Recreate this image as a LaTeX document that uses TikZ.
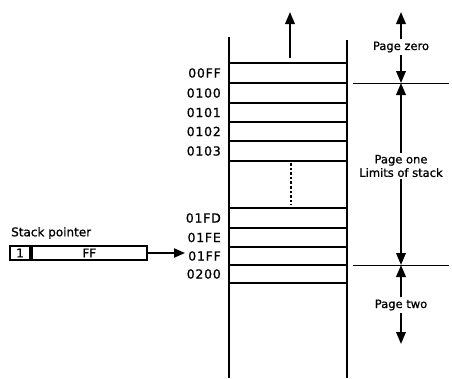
\documentclass[tikz,border=0pt]{standalone}
\usepackage{fontspec}
\setmainfont{DejaVu Sans}[FakeBold=1]
\newfontfamily\addrfamily[LetterSpace=6, FakeBold=1]{DejaVu Sans}
\newcommand{\addrfont}{\addrfamily\fontsize{12.5}{14}\selectfont}
\newcommand{\regfont}{\fontsize{12}{14}\selectfont}
\newcommand{\pagefont}{\fontsize{11.5}{13.5}\selectfont}
\usetikzlibrary{arrows.meta, positioning}

\begin{document}
\begin{tikzpicture}[
    x=1pt, y=-1pt,
    addr/.style={font=\addrfont, anchor=east, inner sep=0pt},
    pagelbl/.style={font=\pagefont, align=center, inner sep=2pt},
    reg/.style={draw, line width=1.8pt, minimum height=14pt, inner sep=0pt, font=\regfont},
    bigarrow/.style={-{Triangle[length=12pt,width=9.5pt]}, line width=2pt},
    wall/.style={line width=2.6pt},
    limit/.style={line width=0.9pt}
]
  \useasboundingbox (0,0) rectangle (452,378);

  % Stack walls
  \draw[wall] (229,37) -- (229,378);
  \draw[wall] (347,40) -- (347,378);

  % Stack rows
  \foreach \yy in {63,83,103,122,141,161,208,228,247,265,283}
    \draw[wall] (229,\yy) -- (347,\yy);
  \draw[wall, dotted] (291,163) -- (291,205);

  % Addresses
  \node[addr] (a00ff) at (221,73) {00FF};
  \node[addr] (a0100) at (221,93) {0100};
  \node[addr] (a0101) at (221,112.5) {0101};
  \node[addr] (a0102) at (221,131.5) {0102};
  \node[addr] (a0103) at (221,151) {0103};
  \node[addr] (a01fd) at (221,218) {01FD};
  \node[addr] (a01fe) at (221,237.5) {01FE};
  \node[addr] (a01ff) at (221,256) {01FF};
  \node[addr] (a0200) at (221,274) {0200};

  % Stack growth
  \coordinate (stacktop) at (290,58);
  \coordinate (grow) at (290,12);
  \draw[bigarrow] (stacktop) -- (grow);

  % Stack pointer
  \node[reg, minimum width=20pt] (sphi) at (20,253) {1};
  \node[reg, minimum width=115pt, right=0pt of sphi] (splo) {FF};
  \node[font=\regfont, anchor=south west, inner sep=0pt] (splbl) at (11,239) {Stack pointer};
  \draw[-{Triangle[length=11pt,width=9pt]}, line width=2pt] (splo.east) -- ([xshift=-3pt]splo.east -| a01ff.west);

  % Page limits
  \draw[limit] (353,83) -- (449,83);
  \draw[limit] (353,265) -- (449,265);
  \coordinate (top0) at (401,12);
  \coordinate (lim1) at (401,83);
  \coordinate (lim2) at (401,265);
  \coordinate (bot2) at (401,344);

  \node[pagelbl] (pzero) at (401,47) {Page zero};
  \node[pagelbl] (pone) at (401,166) {Page one\\Limits of stack};
  \node[pagelbl] (ptwo) at (401,305) {Page two};

  \draw[bigarrow] (pzero.north) -- (top0);
  \draw[bigarrow] (pzero.south) -- (lim1);
  \draw[bigarrow] (pone.north) -- (lim1);
  \draw[bigarrow] (pone.south) -- (lim2);
  \draw[bigarrow] (ptwo.north) -- (lim2);
  \draw[bigarrow] (ptwo.south) -- (bot2);
\end{tikzpicture}
\end{document}
